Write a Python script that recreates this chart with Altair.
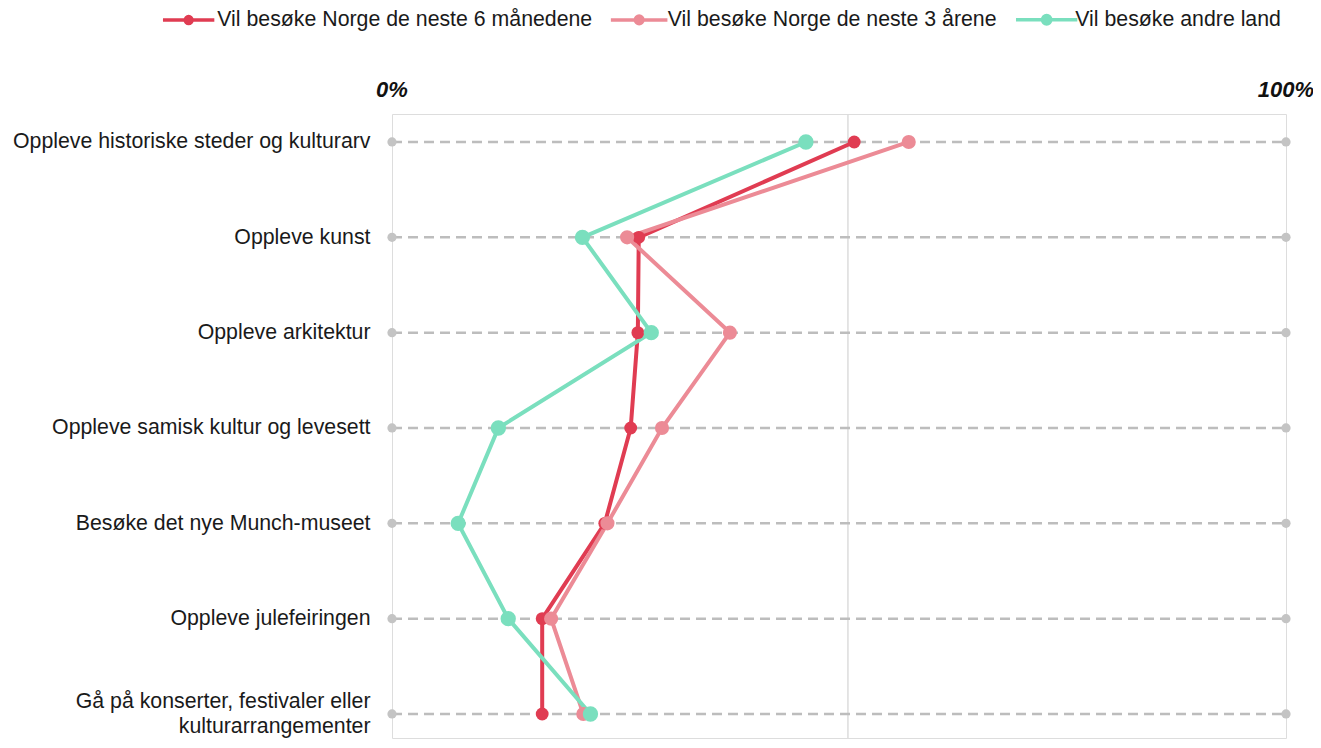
import altair as alt
import pandas as pd

categories = [
    "Oppleve historiske steder og kulturarv",
    "Oppleve kunst",
    "Oppleve arkitektur",
    "Oppleve samisk kultur og levesett",
    "Besøke det nye Munch-museet",
    "Oppleve julefeiringen",
    "Gå på konserter, festivaler eller kulturarrangementer",
]
series_names = [
    "Vil besøke Norge de neste 6 månedene",
    "Vil besøke Norge de neste 3 årene",
    "Vil besøke andre land",
]
norge_6m = [51.7, 27.6, 27.5, 26.7, 23.8, 16.8, 16.8]
norge_3y = [57.8, 26.3, 37.8, 30.2, 24.1, 17.8, 21.4]
andre_land = [46.3, 21.3, 29.0, 11.9, 7.4, 13.0, 22.2]
colors = ["#E03C52", "#EC8B96", "#7ADFBE"]
point_sizes = [165, 235, 235]
scale_ends = [0, 100]
end_labels = ["0%", "100%"]
ref_value = [51]

FONT = "Liberation Sans"

rows = []
for s, vals in zip(series_names, [norge_6m, norge_3y, andre_land]):
    for i, (c, v) in enumerate(zip(categories, vals)):
        rows.append({"series": s, "category": c, "idx": i, "value": v})
df = pd.DataFrame(rows)

grid_df = pd.DataFrame({"category": categories, "x0": scale_ends[0], "x1": scale_ends[1]})
ends_df = pd.DataFrame([{"category": c, "x": e} for c in categories for e in scale_ends])
lab_df = pd.DataFrame({"x": scale_ends, "label": end_labels})
ref_df = pd.DataFrame({"v": ref_value})

xscale = alt.Scale(domain=[0, 100], nice=False, zero=False)
long_label = categories[-1]
label_expr = (
    "datum.label == '" + long_label + "' ? "
    "['Gå på konserter, festivaler eller', 'kulturarrangementer'] : datum.label"
)
y_enc = alt.Y(
    "category:N",
    sort=categories,
    scale=alt.Scale(type="point", padding=0.2727, align=0.538),
    axis=alt.Axis(
        title=None, domain=False, ticks=False, grid=False,
        labelPadding=22, labelFontSize=21.3, labelFont=FONT,
        labelColor="#1a1a1a", labelLimit=0, labelLineHeight=25,
        labelExpr=label_expr,
        labelOffset={"condition": {"test": "datum.value == '" + long_label + "'", "value": -12.5}, "value": 0},
    ),
)

sym_path = (
    "M-4.0,0L4.0,0"
    "M-0.54,0A0.54,0.54,0,1,1,0.54,0A0.54,0.54,0,1,1,-0.54,0"
    "M-0.2,0A0.2,0.2,0,1,1,0.2,0A0.2,0.2,0,1,1,-0.2,0"
)
legend = alt.Legend(
    title=None,
    orient="none",
    direction="horizontal",
    legendX=-214,
    legendY=-105,
    symbolType=sym_path,
    symbolSize=100,
    symbolStrokeWidth=3.5,
    labelFontSize=21.3,
    labelFont=FONT,
    labelColor="#1a1a1a",
    labelOffset=18,
    columnPadding=10.5,
    padding=0,
    labelLimit=0,
)
color_scale = alt.Scale(domain=series_names, range=colors)

ref_rule = alt.Chart(ref_df).mark_rule(color="#dcdcdc", strokeWidth=1.5).encode(
    x=alt.X("v:Q", scale=xscale, axis=None)
)
grid = alt.Chart(grid_df).mark_rule(strokeDash=[10, 6], color="#bdbdbd", strokeWidth=2.5).encode(
    x=alt.X("x0:Q", scale=xscale, axis=None), x2="x1:Q", y=y_enc
)
ends = alt.Chart(ends_df).mark_circle(size=85, color="#c4c4c4", opacity=1).encode(
    x=alt.X("x:Q", scale=xscale, axis=None), y=y_enc
)
lines = alt.Chart(df).mark_line(strokeWidth=4).encode(
    x=alt.X("value:Q", scale=xscale, axis=None),
    y=y_enc,
    color=alt.Color("series:N", sort=series_names, scale=color_scale, legend=legend),
    order="idx:Q",
)
points = alt.Chart(df).mark_circle(opacity=1).encode(
    x=alt.X("value:Q", scale=xscale, axis=None),
    y=y_enc,
    color=alt.Color("series:N", sort=series_names, scale=color_scale, legend=None),
    size=alt.Size("series:N", scale=alt.Scale(domain=series_names, range=point_sizes), legend=None),
)
end_text = alt.Chart(lab_df).mark_text(
    fontSize=22, fontWeight="bold", fontStyle="italic", font=FONT,
    color="#111111", baseline="middle", align="center",
).encode(
    x=alt.X("x:Q", scale=xscale, axis=None), y=alt.value(-24), text="label:N"
)

chart = alt.layer(ref_rule, grid, ends, lines, points, end_text).properties(
    width=894,
    height=624,
    autosize=alt.AutoSizeParams(type="none"),
    padding={"left": 384, "top": 106, "right": 27, "bottom": 2},
).configure_view(stroke=None).configure(background="white")

chart.save("out.html", embed_options={"renderer": "svg", "actions": False})
